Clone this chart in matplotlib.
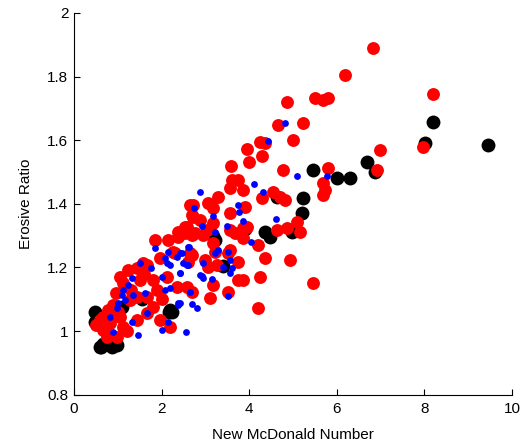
import matplotlib
matplotlib.use('Agg')
import matplotlib.pyplot as plt

plt.rcParams['font.family'] = ['Liberation Sans', 'DejaVu Sans']

# black series
black_x = [0.48, 0.48, 0.57, 0.59, 0.62, 0.87, 0.89, 0.98, 0.66, 1.10, 1.55, 2.17, 2.19, 2.24,
           3.17, 3.22, 3.40, 3.90, 4.36, 4.47, 4.98, 4.63, 5.23, 5.20, 5.46, 6.00, 6.30,
           6.69, 6.87, 8.01, 8.20, 9.45]
black_y = [1.03, 1.06, 1.035, 0.95, 0.95, 0.95, 0.96, 0.955, 0.96, 1.076, 1.10, 1.06, 1.066, 1.06,
           1.30, 1.286, 1.205, 1.32, 1.31, 1.295, 1.31, 1.42, 1.418, 1.37, 1.506, 1.48, 1.48,
           1.53, 1.50, 1.59, 1.657, 1.585]

# red series
red_x = [6.83, 6.19, 5.50, 5.69, 5.80, 5.23, 8.20, 6.99, 6.92, 7.97, 5.80, 5.69, 5.73, 5.69,
         5.46, 4.86, 4.66, 5.00, 4.25, 4.36, 3.95, 4.29, 4.00, 3.58, 4.77, 3.61, 3.74, 3.86,
         3.56, 4.29, 4.54, 4.70, 4.82, 3.29, 3.06, 2.72, 3.17, 3.90, 3.56, 2.72, 2.88, 2.53,
         3.17, 3.95, 3.68, 3.86, 4.63, 4.86, 5.09, 5.16, 2.76, 4.20, 3.17, 2.69, 3.52, 4.36,
         4.93, 3.74, 2.60, 3.06, 3.26, 4.25, 3.74, 3.86, 3.17, 3.52, 3.11, 2.58, 4.20, 3.56,
         3.86, 2.95, 2.69,
         2.65, 2.69, 1.85, 2.15, 2.37, 2.53, 2.26, 1.96, 1.67, 1.44, 1.23, 1.05, 1.12, 1.51,
         1.80, 2.12, 2.35, 1.89, 1.67, 1.44, 1.28, 0.89, 0.78, 0.66, 0.59, 0.82, 1.05, 1.12,
         1.44, 1.67, 1.80, 1.96, 2.19, 0.75, 0.98, 0.66, 2.58, 2.37, 2.69, 3.04, 3.22, 2.65,
         2.31, 1.58, 3.56, 2.99, 0.50, 0.70, 1.00, 1.30, 1.60, 2.00, 1.20, 0.95]
red_y = [1.89, 1.805, 1.733, 1.727, 1.733, 1.654, 1.746, 1.57, 1.507, 1.579, 1.513, 1.465,
         1.443, 1.428, 1.151, 1.72, 1.648, 1.60, 1.594, 1.591, 1.573, 1.551, 1.532, 1.519,
         1.507, 1.475, 1.475, 1.444, 1.45, 1.418, 1.437, 1.422, 1.412, 1.422, 1.403, 1.397,
         1.387, 1.39, 1.371, 1.359, 1.349, 1.327, 1.34, 1.327, 1.308, 1.293, 1.318, 1.324,
         1.343, 1.312, 1.308, 1.27, 1.277, 1.24, 1.245, 1.23, 1.223, 1.217, 1.217, 1.201,
         1.208, 1.17, 1.161, 1.161, 1.145, 1.123, 1.104, 1.139, 1.072, 1.318, 1.324, 1.302,
         1.123,
         1.396, 1.365, 1.286, 1.286, 1.296, 1.308, 1.249, 1.23, 1.208, 1.198, 1.192, 1.17,
         1.151, 1.161, 1.161, 1.17, 1.139, 1.129, 1.107, 1.107, 1.097, 1.082, 1.066, 1.044,
         1.035, 1.025, 1.044, 1.013, 1.035, 1.057, 1.076, 1.035, 1.013, 0.981, 0.981, 1.003,
         1.327, 1.312, 1.302, 1.318, 1.249, 1.245, 1.245, 1.214, 1.255, 1.223, 1.02, 1.00,
         1.06, 1.13, 1.18, 1.10, 1.00, 1.12]

# blue series
blue_x = [4.82, 4.43, 5.09, 5.78, 4.11, 4.32, 2.88, 2.74, 3.74, 3.77, 4.61, 3.86, 3.17, 2.92,
          3.49, 3.22, 4.04, 2.63, 3.22, 3.29, 3.52, 2.47, 3.56, 3.40, 3.61, 3.56, 2.49, 2.60,
          2.42, 2.95, 2.88, 2.95, 3.15, 2.65, 3.52, 2.69, 2.81, 2.42, 2.37, 2.92,
          1.85, 1.51, 1.76, 1.32, 1.23, 1.12, 1.10, 1.16, 1.00, 0.98, 1.35, 1.62, 1.67, 0.82,
          1.32, 0.89, 1.46, 2.01, 2.15, 2.37, 2.56, 2.08, 2.12, 2.19, 2.01, 2.08, 2.19, 2.42,
          2.35, 2.42, 2.58, 2.60, 2.15]
blue_y = [1.654, 1.597, 1.487, 1.488, 1.462, 1.437, 1.437, 1.387, 1.396, 1.374, 1.352, 1.346,
          1.361, 1.33, 1.33, 1.312, 1.28, 1.264, 1.245, 1.255, 1.249, 1.245, 1.223, 1.201,
          1.198, 1.183, 1.214, 1.208, 1.183, 1.214, 1.176, 1.167, 1.164, 1.123, 1.11, 1.085,
          1.072, 1.088, 1.088, 1.173,
          1.261, 1.214, 1.198, 1.167, 1.145, 1.129, 1.113, 1.097, 1.088, 1.072, 1.113, 1.12,
          1.057, 1.044, 1.028, 0.997, 0.988, 1.003, 1.028, 1.082, 0.997, 1.23, 1.214, 1.208,
          1.17, 1.129, 1.135, 1.183, 1.233, 1.245, 1.208, 1.264, 1.249]

fig = plt.figure(figsize=(5.26, 4.46), dpi=100)
ax = fig.add_axes([0.1407, 0.115, 0.8327, 0.856])

ax.scatter(black_x, black_y, s=100, c='black', linewidths=0)
ax.scatter(red_x, red_y, s=86, c='red', linewidths=0)
ax.scatter(blue_x, blue_y, s=24, c='blue', linewidths=0)

ax.set_xlim(0, 10)
ax.set_ylim(0.8, 2)
ax.set_xticks([0, 2, 4, 6, 8, 10])
ax.set_yticks([0.8, 1, 1.2, 1.4, 1.6, 1.8, 2])
ax.set_yticklabels(['0.8', '1', '1.2', '1.4', '1.6', '1.8', '2'])
ax.tick_params(direction='in', length=4, width=0.8, labelsize=11, colors='black', pad=4)
ax.tick_params(axis='x', pad=5)
ax.spines['top'].set_visible(False)
ax.spines['right'].set_visible(False)
ax.spines['left'].set_linewidth(0.8)
ax.spines['bottom'].set_linewidth(0.8)
ax.set_xlabel('New McDonald Number', fontsize=11, labelpad=9)
ax.set_ylabel('Erosive Ratio', fontsize=11, labelpad=10)

fig.savefig('out.png', dpi=100)
